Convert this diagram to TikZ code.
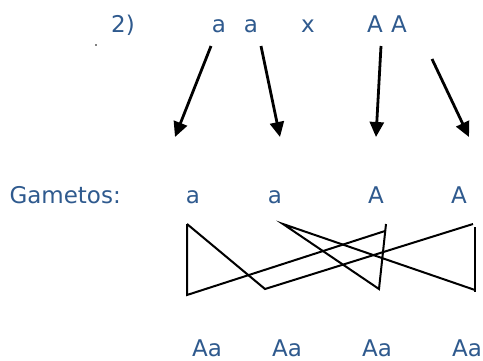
\documentclass[tikz,border=0pt]{standalone}
\usepackage{fontspec}
\setmainfont{DejaVu Sans}
\usetikzlibrary{arrows.meta, positioning}
\definecolor{cblue}{HTML}{2F5A8E}
\definecolor{cline}{HTML}{000000}
\tikzset{
  every picture/.style={line width=2pt},
  allele/.style={text=cblue, font=\fontsize{23}{28}\selectfont, inner sep=0pt, anchor=base},
  arrow/.style={-{Triangle[length=15pt, width=14pt]}, draw=cline, line width=2.8pt},
  cross/.style={draw=cline, line width=2pt},
}
\begin{document}
\begin{tikzpicture}[x=1pt, y=-1pt]
  \useasboundingbox (0,0) rectangle (483,360);
  % parents
  \node[allele] (num) at (123,32.5) {2)};
  \node[allele] (pa1) at (219,32.5) {a};
  \node[allele] (pa2) at (251,32.5) {a};
  \node[allele] (px) at (308,32.5) {x};
  \node[allele] (pA1) at (375,32.5) {A};
  \node[allele] (pA2) at (399,32.5) {A};
  \fill[black] (96,45) circle (0.9);
  % arrows to the gametes
  \coordinate (s1) at (211,46);  \coordinate (t1) at (175,137);
  \coordinate (s2) at (261,46);  \coordinate (t2) at (280,137);
  \coordinate (s3) at (381,46);  \coordinate (t3) at (376,137);
  \coordinate (s4) at (432,59);  \coordinate (t4) at (469,137);
  \draw[arrow] (s1) -- (t1);
  \draw[arrow] (s2) -- (t2);
  \draw[arrow] (s3) -- (t3);
  \draw[arrow] (s4) -- (t4);
  % gametes
  \node[allele, anchor=base west] (gam) at (8.5,203) {Gametos:};
  \node[allele] (g1) at (193,203) {a};
  \node[allele] (g2) at (275,203) {a};
  \node[allele] (g3) at (376,203) {A};
  \node[allele] (g4) at (459,203) {A};
  % crossing lines
  \draw[cross] (187,224) -- (187,295) -- (385,231);
  \draw[cross] (187,224) -- (265,289) -- (473,224);
  \draw[cross] (386,224) -- (379,289) -- (283,224) -- (475,290);
  \draw[cross] (475,227) -- (475,292);
  % offspring
  \node[allele] (f1) at (207,356) {Aa};
  \node[allele] (f2) at (287,356) {Aa};
  \node[allele] (f3) at (377,356) {Aa};
  \node[allele] (f4) at (467,356) {Aa};
\end{tikzpicture}
\end{document}
